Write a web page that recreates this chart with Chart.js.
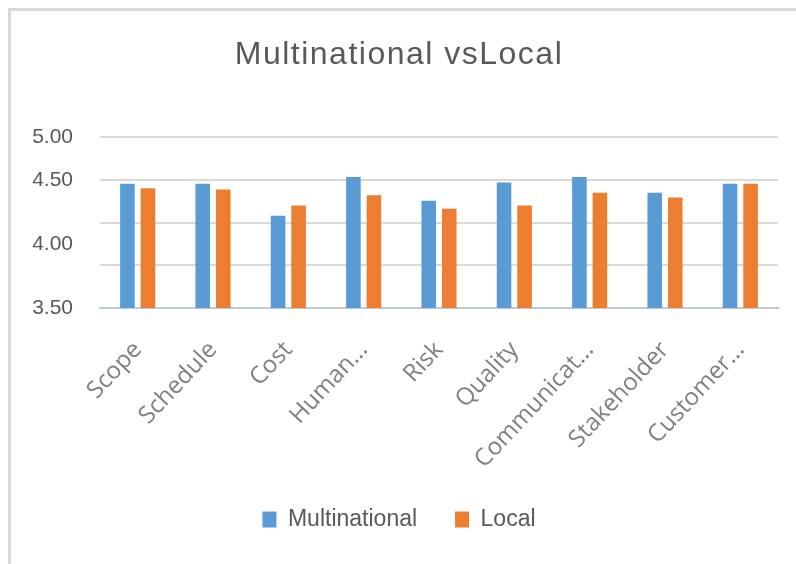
<!DOCTYPE html>
<html>
<head>
<meta charset="utf-8">
<script src="https://cdn.jsdelivr.net/npm/chart.js@4/dist/chart.umd.min.js"></script>
<style>
  html, body { margin: 0; padding: 0; background: #ffffff; }
  #wrap { position: relative; width: 796px; height: 564px; overflow: hidden; background: #ffffff; }
  #frame { position: absolute; left: 8px; top: 8px; right: -10px; bottom: -10px;
           border-left: 3px solid #d9d9d9; border-top: 3px solid #d9d9d9; pointer-events: none; }
  canvas { position: absolute; left: 0; top: 0; }
</style>
</head>
<body>
<div id="wrap">
  <canvas id="c" width="796" height="564"></canvas>
  <div id="frame"></div>
</div>
<script>
const chartTitle = "Multinational vsLocal";
const categories = ["Scope", "Schedule", "Cost", "Human...", "Risk", "Quality", "Communicat...", "Stakeholder", "Customer..."];
const seriesNames = ["Multinational", "Local"];
const multinational = [4.59, 4.59, 4.31, 4.65, 4.44, 4.60, 4.65, 4.51, 4.59];
const local = [4.55, 4.54, 4.40, 4.49, 4.37, 4.40, 4.51, 4.47, 4.59];
const yMin = 3.5;
const yMax = 5.0;
const gridValues = [3.5, 3.875, 4.25, 4.625, 5.0];
const tickLabelValues = [3.5, 4.0625, 4.625, 5.0];
const tickLabels = ["3.50", "4.00", "4.50", "5.00"];

const allTicks = Array.from(new Set(gridValues.concat(tickLabelValues))).sort((a, b) => a - b);

// Draw the title with slight letter spacing, like the reference.
const titleSpacing = {
  id: 'titleSpacing',
  beforeDraw(chart) {
    const tb = chart.titleBlock;
    if (tb && !tb._spaced) {
      const orig = tb.draw.bind(tb);
      tb.draw = function () {
        const ctx = chart.ctx;
        ctx.save();
        if ('letterSpacing' in ctx) ctx.letterSpacing = '1.5px';
        orig();
        ctx.restore();
      };
      tb._spaced = true;
    }
  }
};

new Chart(document.getElementById('c'), {
  type: 'bar',
  data: {
    labels: categories,
    datasets: [
      { label: seriesNames[0], data: multinational, backgroundColor: '#5b9bd5',
        categoryPercentage: 0.545, barPercentage: 0.71 },
      { label: seriesNames[1], data: local, backgroundColor: '#ed7d31',
        categoryPercentage: 0.545, barPercentage: 0.71 }
    ]
  },
  plugins: [titleSpacing],
  options: {
    responsive: false,
    animation: false,
    events: [],
    layout: { padding: { left: 20, right: 18, top: 0, bottom: 23 } },
    plugins: {
      title: {
        display: true, text: chartTitle, color: '#595959',
        font: { family: 'Liberation Sans', size: 32, weight: 'normal' },
        padding: { top: 36, bottom: 62.6 }
      },
      legend: {
        position: 'bottom',
        labels: {
          color: '#595959', boxWidth: 14, boxHeight: 16, padding: 38,
          font: { family: 'Liberation Sans', size: 23 }
        }
      },
      tooltip: { enabled: false }
    },
    scales: {
      x: {
        grid: { display: false, drawTicks: false },
        border: { display: true, color: '#bfcad8', width: 2 },
        ticks: {
          autoSkip: false, minRotation: 47, maxRotation: 47, padding: 28,
          color: '#808080', font: { family: 'Open Sans', size: 24 }
        },
        afterFit: (s) => { s.height = 162; }
      },
      y: {
        min: yMin, max: yMax,
        afterBuildTicks: (s) => { s.ticks = allTicks.map(v => ({ value: v })); },
        grid: {
          drawTicks: false, lineWidth: 2,
          color: (ctx) => gridValues.includes(ctx.tick && ctx.tick.value) ? '#d9d9d9' : 'rgba(0,0,0,0)'
        },
        border: { display: false },
        ticks: {
          padding: 27, color: '#595959',
          font: { family: 'Liberation Sans', size: 21 },
          callback: (v) => { const i = tickLabelValues.indexOf(v); return i >= 0 ? tickLabels[i] : ''; }
        },
        afterFit: (s) => { s.width = 80; }
      }
    }
  }
});
</script>
</body>
</html>
